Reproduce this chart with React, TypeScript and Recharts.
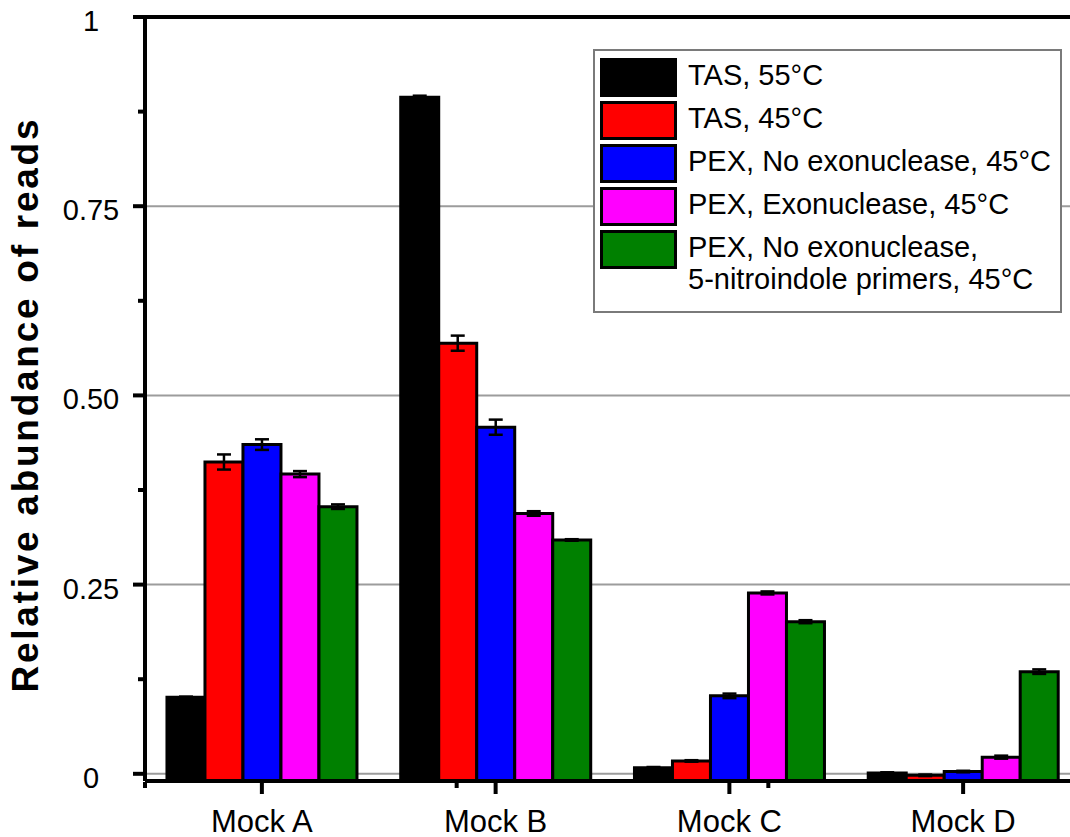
import React from 'react';
import { BarChart, Bar, XAxis, YAxis, CartesianGrid, ErrorBar, ReferenceLine, Legend } from 'recharts';

const categories = ['Mock A', 'Mock B', 'Mock C', 'Mock D'];
const seriesNames = [
  'TAS, 55°C',
  'TAS, 45°C',
  'PEX, No exonuclease, 45°C',
  'PEX, Exonuclease, 45°C',
  'PEX, No exonuclease,\n5-nitroindole primers, 45°C',
];
const seriesColors = ['#000000', '#ff0000', '#0000ff', '#ff00ff', '#008000'];

const tas55 = [0.101, 0.894, 0.008, 0.001];
const tas55Err = [0.001, 0.002, 0.001, 0.001];
const tas45 = [0.412, 0.569, 0.017, -0.002];
const tas45Err = [0.01, 0.01, 0.001, 0.001];
const pexNoExo = [0.435, 0.458, 0.103, 0.003];
const pexNoExoErr = [0.007, 0.01, 0.003, 0.001];
const pexExo = [0.396, 0.344, 0.239, 0.022];
const pexExoErr = [0.004, 0.003, 0.002, 0.002];
const pexNitro = [0.353, 0.309, 0.201, 0.135];
const pexNitroErr = [0.003, 0.001, 0.002, 0.003];

const yMajorTicks = [0, 0.25, 0.5, 0.75, 1];
const yMinorTicks = [0.125, 0.375, 0.625, 0.875];
const yTickLabels = ['0', '0.25', '0.50', '0.75', '1'];
const yAxisMin = -0.0095;
const yAxisMax = 1;
const gridValues = [0, 0.25, 0.5, 0.75];
const categoryBoundaries = [0, 1, 2, 3, 4];
const yLabel = 'Relative abundance of reads';

const seriesValues = [tas55, tas45, pexNoExo, pexExo, pexNitro];
const seriesErrors = [tas55Err, tas45Err, pexNoExoErr, pexExoErr, pexNitroErr];

const data = categories.map((name, i) => {
  const row: Record<string, any> = { name };
  seriesValues.forEach((vals, s) => {
    row[`s${s}`] = [yAxisMin, vals[i]];
    row[`e${s}`] = seriesErrors[s][i];
  });
  return row;
});

const FONT = '"Liberation Sans", Arial, sans-serif';

const YTick = (props: any) => {
  const { x, y, payload } = props;
  const v = payload.value;
  const idx = yMajorTicks.indexOf(v);
  const major = idx >= 0;
  return (
    <g>
      <line x1={x - (major ? 12 : 7)} x2={x} y1={y} y2={y} stroke="#000" strokeWidth={4} />
      {major && (
        <text x={x - 54} y={y + 14} textAnchor="middle" fontSize={29} fill="#000" fontFamily={FONT}>
          {yTickLabels[idx]}
        </text>
      )}
    </g>
  );
};

const XTick = (props: any) => {
  const { x, y, payload } = props;
  return (
    <g>
      <line x1={x} x2={x} y1={y} y2={y + 13} stroke="#000" strokeWidth={4} />
      <text x={x} y={y + 51} textAnchor="middle" fontSize={31} fill="#000" fontFamily={FONT}>
        {payload.value}
      </text>
    </g>
  );
};

const NoTick = () => <g />;

const YLabel = () => (
  <text
    transform="translate(38, 406) rotate(-90)"
    x={0}
    y={0}
    textAnchor="middle"
    fontSize={37}
    fontWeight="bold"
    fill="#000"
    fontFamily={FONT}
    textLength={573}
    lengthAdjust="spacing"
  >
    {yLabel}
  </text>
);

const LegendContent = () => (
  <div
    style={{
      boxSizing: 'border-box',
      width: 469,
      height: 264,
      border: '2px solid #7a7a7a',
      background: '#fff',
      position: 'relative',
      fontFamily: FONT,
    }}
  >
    {seriesNames.map((name, i) => (
      <div
        key={name}
        style={{ position: 'absolute', left: 5, top: 7 + i * 43, display: 'flex', alignItems: 'flex-start' }}
      >
        <div
          style={{
            width: 77,
            height: 39,
            boxSizing: 'border-box',
            border: '3px solid #000',
            background: seriesColors[i],
            flex: 'none',
          }}
        />
        <div
          style={{
            marginLeft: 11,
            marginTop: 1,
            fontSize: 29,
            lineHeight: '32px',
            whiteSpace: 'pre-line',
            color: '#000',
          }}
        >
          {name}
        </div>
      </div>
    ))}
  </div>
);

export default function App() {
  return (
    <div
      style={{
        position: 'absolute',
        left: 0,
        top: 0,
        width: 1070,
        height: 837,
        overflow: 'hidden',
        background: '#fff',
        fontFamily: FONT,
      }}
    >
      <BarChart
        width={1090}
        height={837}
        data={data}
        margin={{ top: 17, right: 10, bottom: 54, left: 144 }}
        barCategoryGap="9.4%"
        barGap={0}
      >
        <CartesianGrid
          horizontal
          vertical={false}
          horizontalValues={gridValues}
          stroke="#9c9c9c"
          strokeWidth={2}
        />
        <XAxis
          dataKey="name"
          type="category"
          height={1}
          interval={0}
          tickSize={0}
          tickMargin={0}
          tickLine={false}
          axisLine={{ stroke: '#000', strokeWidth: 4 }}
          tick={<XTick />}
        />
        <XAxis
          xAxisId="bounds"
          type="number"
          domain={[0, 4]}
          ticks={categoryBoundaries}
          allowDataOverflow
          height={1}
          tickSize={6}
          axisLine={false}
          tickLine={{ stroke: '#000', strokeWidth: 4 }}
          tick={NoTick}
        />
        <YAxis
          type="number"
          width={1}
          domain={[yAxisMin, yAxisMax]}
          allowDataOverflow
          ticks={[...yMajorTicks, ...yMinorTicks]}
          interval={0}
          tickSize={0}
          tickMargin={0}
          tickLine={false}
          axisLine={{ stroke: '#000', strokeWidth: 4 }}
          tick={<YTick />}
          label={{ content: () => <YLabel /> }}
        />
        <ReferenceLine y={1} stroke="#000" strokeWidth={4} />
        {seriesNames.map((n, s) => (
          <Bar
            key={n}
            dataKey={`s${s}`}
            name={n}
            fill={seriesColors[s]}
            stroke="#000"
            strokeWidth={3}
            isAnimationActive={false}
          >
            <ErrorBar dataKey={`e${s}`} width={7} stroke="#000" strokeWidth={2.5} direction="y" />
          </Bar>
        ))}
        <Legend
          layout="vertical"
          align="center"
          verticalAlign="middle"
          content={<LegendContent />}
          wrapperStyle={{ left: 593, top: 49, width: 469, height: 264 }}
        />
      </BarChart>
    </div>
  );
}
